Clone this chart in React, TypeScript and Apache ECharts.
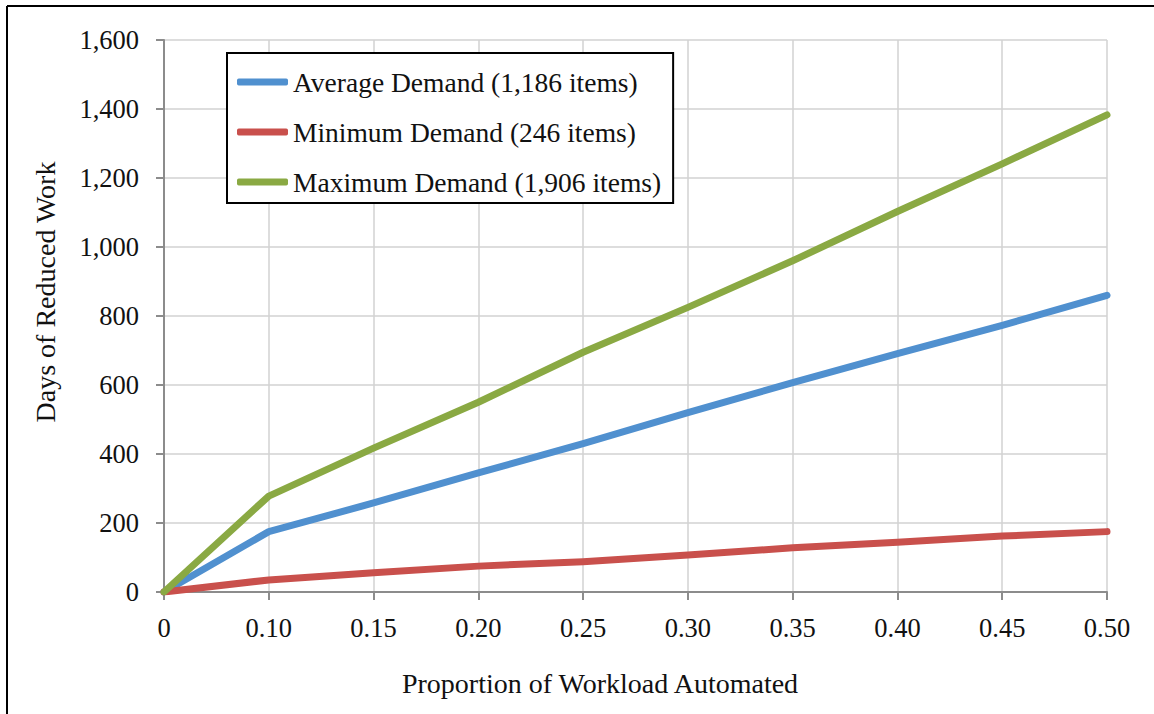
import React, { useEffect, useRef } from "react";
import * as echarts from "echarts";

// proportion of workload automated (x categories)
const proportions = ["0", "0.10", "0.15", "0.20", "0.25", "0.30", "0.35", "0.40", "0.45", "0.50"];

// days of reduced work per demand scenario
const averageDemand = [0, 175, 258, 345, 430, 520, 607, 691, 773, 860];
const minimumDemand = [0, 35, 56, 75, 88, 107, 128, 144, 162, 175];
const maximumDemand = [0, 278, 417, 550, 695, 825, 960, 1103, 1241, 1383];

const seriesNames = [
  "Average Demand (1,186 items)",
  "Minimum Demand (246 items)",
  "Maximum Demand (1,906 items)",
];
const seriesColors = ["#5090CF", "#C9504C", "#8AA943"];

const FONT = '"Liberation Serif", "Times New Roman", serif';

const App: React.FC = () => {
  const chartRef = useRef<HTMLDivElement>(null);

  useEffect(() => {
    if (!chartRef.current) return;
    const chart = echarts.init(chartRef.current, undefined, { renderer: "svg" });

    const values = [averageDemand, minimumDemand, maximumDemand];

    chart.setOption({
      animation: false,
      backgroundColor: "#fff",
      textStyle: { fontFamily: FONT, color: "#111" },
      grid: { left: 164, right: 47, top: 40, bottom: 122 },
      legend: {
        orient: "vertical",
        left: 227,
        top: 53,
        icon: "roundRect",
        itemWidth: 51,
        itemHeight: 7,
        itemGap: 20,
        padding: [14, 12, 6, 10],
        borderColor: "#000",
        borderWidth: 2,
        backgroundColor: "#fff",
        textStyle: { fontFamily: FONT, fontSize: 27.5, lineHeight: 30, color: "#111" },
        data: seriesNames,
      },
      xAxis: {
        type: "category",
        data: proportions,
        boundaryGap: false,
        axisLine: { lineStyle: { color: "#8c8c8c", width: 2 } },
        axisTick: { show: true, length: 8, lineStyle: { color: "#8c8c8c", width: 2 } },
        axisLabel: { fontFamily: FONT, fontSize: 26.5, color: "#111", margin: 22 },
        splitLine: { show: true, lineStyle: { color: "#d2d2d2", width: 1.5 } },
      },
      yAxis: {
        type: "value",
        min: 0,
        max: 1600,
        interval: 200,
        axisLine: { show: true, lineStyle: { color: "#8c8c8c", width: 2 } },
        axisTick: { show: true, length: 8, lineStyle: { color: "#8c8c8c", width: 2 } },
        axisLabel: {
          fontFamily: FONT,
          fontSize: 26.5,
          color: "#111",
          margin: 25,
          formatter: (v: number) => v.toLocaleString("en-US"),
        },
        splitLine: { show: true, lineStyle: { color: "#d2d2d2", width: 1.5 } },
      },
      series: seriesNames.map((name, i) => ({
        name,
        type: "line",
        data: values[i],
        symbol: "none",
        color: seriesColors[i],
        lineStyle: { width: 7, color: seriesColors[i], cap: "round", join: "round" },
      })),
      graphic: [
        // frame around the figure (top and left edges only are visible)
        { type: "line", shape: { x1: 7, y1: 6, x2: 1154, y2: 6 }, style: { stroke: "#000", lineWidth: 2 } },
        { type: "line", shape: { x1: 7, y1: 6, x2: 7, y2: 714 }, style: { stroke: "#000", lineWidth: 2 } },
        // axis titles
        {
          type: "text",
          x: 600,
          y: 683,
          style: {
            text: "Proportion of Workload Automated",
            font: `28px ${FONT}`,
            fill: "#111",
            align: "center",
            verticalAlign: "middle",
          },
        },
        {
          type: "text",
          x: 45,
          y: 292,
          rotation: Math.PI / 2,
          style: {
            text: "Days of Reduced Work",
            font: `28px ${FONT}`,
            fill: "#111",
            align: "center",
            verticalAlign: "middle",
          },
        },
      ],
    });

    return () => {
      chart.dispose();
    };
  }, []);

  return (
    <div
      ref={chartRef}
      style={{ position: "absolute", left: 0, top: 0, width: 1154, height: 714 }}
    />
  );
};

export default App;
